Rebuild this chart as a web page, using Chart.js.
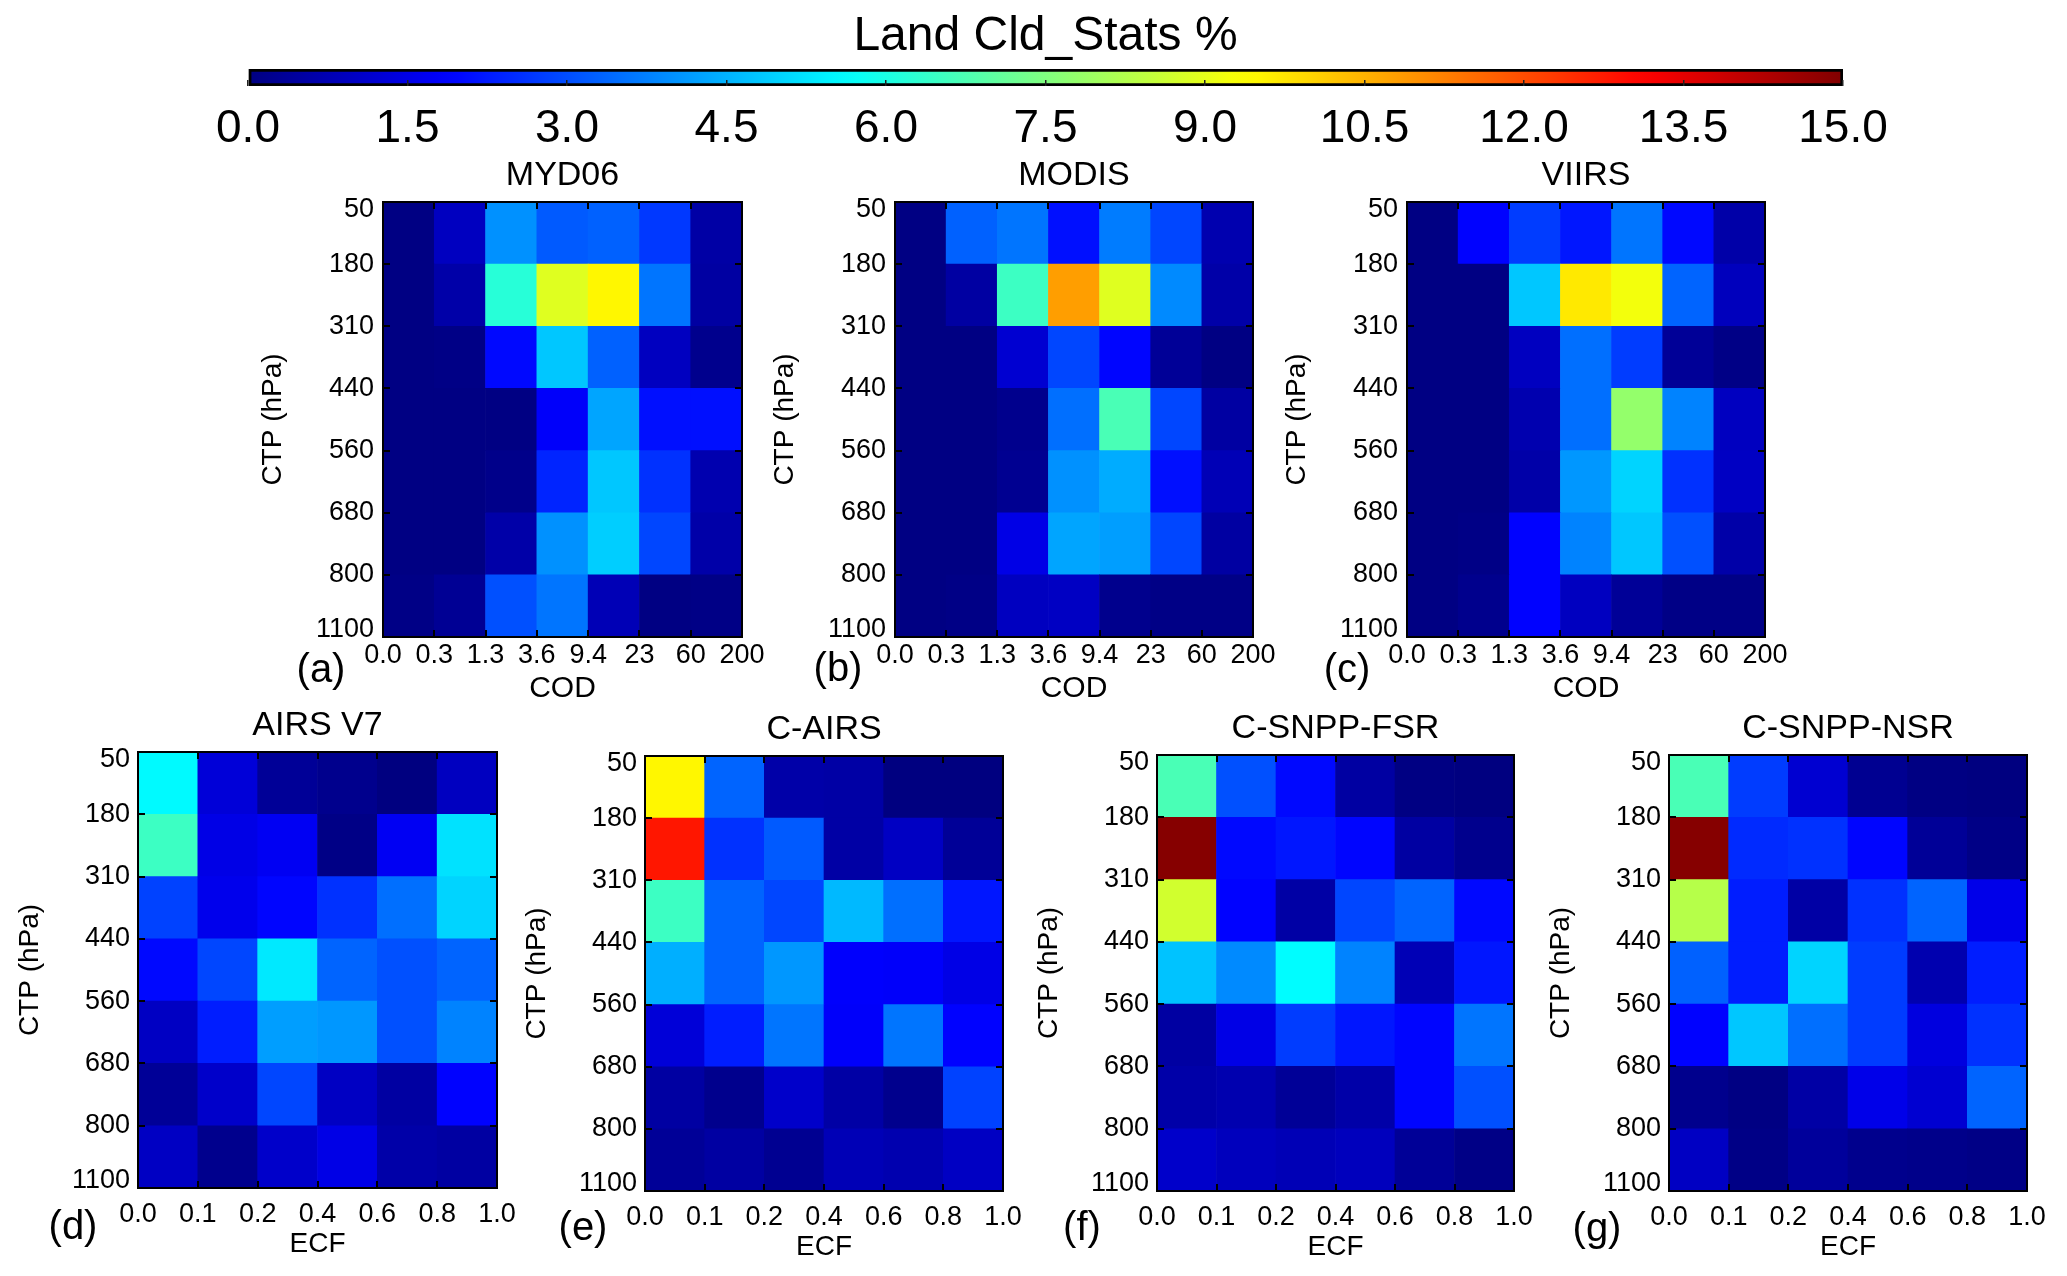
<!DOCTYPE html>
<html><head><meta charset="utf-8">
<script src="https://cdn.jsdelivr.net/npm/chart.js@4.4.1/dist/chart.umd.min.js"></script>
<style>
html,body{margin:0;padding:0;background:#fff;}
#page{position:relative;width:2067px;height:1276px;overflow:hidden;background:#fff;}
#page canvas{position:absolute;}
.plab{position:absolute;font-family:'Liberation Sans',Arial,Helvetica,sans-serif;font-size:40px;color:#000;transform:translate(-50%,-50%);line-height:1;white-space:nowrap;}
</style></head><body><div id="page"></div>
<script>
// ---------- data ----------
const colorbarTitle = 'Land Cld_Stats %';
const colorMin = 0, colorMax = 15, colorStep = 1.5;
const codEdges = ['0.0','0.3','1.3','3.6','9.4','23','60','200'];
const ecfEdges = ['0.0','0.1','0.2','0.4','0.6','0.8','1.0'];
const ctpEdges = ['50','180','310','440','560','680','800','1100']; // top -> bottom
const panelTitles = ['MYD06','MODIS','VIIRS','AIRS V7','C-AIRS','C-SNPP-FSR','C-SNPP-NSR'];
const panelLetters = ['(a)','(b)','(c)','(d)','(e)','(f)','(g)'];
// values in %, rows top (50-180 hPa) to bottom (800-1100 hPa)
const myd06 = [
 [0.05,0.95,4.0,3.2,3.3,2.7,0.55],
 [0.05,0.6,6.2,8.9,9.5,3.6,0.5],
 [0.05,0.1,2.0,4.8,3.3,0.95,0.2],
 [0.05,0.05,0.05,1.8,4.3,2.1,2.1],
 [0.05,0.05,0.15,2.4,4.8,2.6,0.7],
 [0.05,0.05,0.6,4.0,4.9,2.9,0.6],
 [0.1,0.3,3.05,3.6,0.8,0.05,0.1]
];
const modis = [
 [0.05,3.3,3.6,2.1,3.7,2.9,0.7],
 [0.05,0.5,6.5,10.8,8.9,3.9,0.6],
 [0.05,0.05,1.2,2.9,1.95,0.35,0.05],
 [0.05,0.05,0.2,3.5,6.7,2.9,0.5],
 [0.05,0.05,0.25,4.0,4.4,2.1,0.8],
 [0.05,0.05,1.5,4.3,4.2,2.9,0.5],
 [0.05,0.1,0.95,1.0,0.2,0.1,0.1]
];
const viirs = [
 [0.05,1.9,2.75,2.2,3.6,2.0,0.6],
 [0.05,0.05,4.8,9.7,9.2,3.35,0.9],
 [0.05,0.05,0.95,3.5,2.75,0.35,0.1],
 [0.05,0.05,0.7,3.5,7.8,3.8,0.95],
 [0.05,0.05,0.6,4.1,5.0,2.6,1.0],
 [0.05,0.1,1.9,3.8,4.8,3.05,0.6],
 [0.05,0.2,1.9,0.95,0.35,0.1,0.1]
];
const airsV7 = [
 [5.55,1.3,0.35,0.2,0.0,0.95],
 [6.5,1.5,1.7,0.1,1.7,5.2],
 [2.85,1.6,1.95,2.6,3.5,5.0],
 [2.0,2.9,5.3,3.35,3.05,3.35],
 [1.0,2.3,4.2,4.1,3.05,3.8],
 [0.35,1.1,2.9,1.0,0.5,1.9],
 [1.0,0.2,1.1,1.5,0.6,0.5]
];
const cAirs = [
 [9.5,3.35,0.6,0.55,0.0,0.0],
 [12.8,2.6,3.2,0.55,1.0,0.35],
 [6.5,3.35,2.9,4.6,3.5,2.2],
 [4.45,3.35,4.1,1.85,1.8,1.5],
 [1.3,2.3,3.6,1.8,3.6,1.9],
 [0.5,0.2,1.1,0.55,0.2,2.85],
 [0.35,0.5,0.25,0.8,0.7,1.0]
];
const cSnppFsr = [
 [6.7,3.05,2.0,0.5,0.05,0.0],
 [14.9,2.0,2.2,1.95,0.5,0.2],
 [8.7,1.9,0.55,2.9,3.35,2.0],
 [4.75,3.9,5.6,3.8,0.8,2.2],
 [0.5,1.5,2.75,2.2,1.95,3.6],
 [0.6,0.7,0.35,0.6,1.95,3.05],
 [1.1,0.9,0.8,0.9,0.35,0.1]
];
const cSnppNsr = [
 [6.7,2.75,1.2,0.25,0.05,0.0],
 [14.9,2.5,2.6,1.95,0.35,0.1],
 [8.3,2.3,0.55,2.6,3.35,1.55],
 [3.3,2.3,5.0,2.75,0.7,2.3],
 [1.9,4.8,3.5,2.75,1.4,2.6],
 [0.2,0.05,0.55,1.55,1.2,3.35],
 [1.0,0.1,0.4,0.2,0.15,0.1]
];

// ---------- layout (positions only) ----------
const layout = [
 {L:383, R:742, T:202, B:637, axW:124, xAxH:67, xPad:12, yPad:16, titlePad:9, xTitleSize:30, lab:[321,668]},
 {L:895, R:1253, T:202, B:637, axW:124, xAxH:67, xPad:12, yPad:16, titlePad:9, xTitleSize:30, lab:[838,667]},
 {L:1407, R:1765, T:202, B:637, axW:124, xAxH:67, xPad:12, yPad:16, titlePad:9, xTitleSize:30, lab:[1347,668]},
 {L:138, R:497, T:752, B:1188, axW:122, xAxH:70, xPad:20, yPad:15, titlePad:9, xTitleSize:28, lab:[73,1225]},
 {L:645, R:1003, T:756, B:1191, axW:122, xAxH:70, xPad:20, yPad:15, titlePad:9, xTitleSize:28, lab:[583,1226]},
 {L:1157, R:1514, T:755, B:1191, axW:122, xAxH:70, xPad:20, yPad:15, titlePad:9, xTitleSize:28, lab:[1082,1226]},
 {L:1669, R:2027, T:755, B:1191, axW:122, xAxH:70, xPad:20, yPad:15, titlePad:9, xTitleSize:28, lab:[1597,1227]}
];
const panelValues = [myd06, modis, viirs, airsV7, cAirs, cSnppFsr, cSnppNsr];
const panelXEdges = [codEdges, codEdges, codEdges, ecfEdges, ecfEdges, ecfEdges, ecfEdges];
const panelXTitles = ['COD','COD','COD','ECF','ECF','ECF','ECF'];

const FONT = "'Liberation Sans', Arial, Helvetica, sans-serif";
Chart.defaults.font.family = FONT;
Chart.defaults.color = '#000';
const page = document.getElementById('page');

function clamp01(x){ return Math.max(0, Math.min(1, x)); }
function jet(v){
  const t = clamp01((v - colorMin) / (colorMax - colorMin));
  const r = clamp01(1.5 - Math.abs(4*t - 3));
  const g = clamp01(1.5 - Math.abs(4*t - 2));
  const b = clamp01(1.5 - Math.abs(4*t - 1));
  return 'rgb(' + Math.round(r*255) + ',' + Math.round(g*255) + ',' + Math.round(b*255) + ')';
}

function makeCanvas(left, top, w, h){
  const cv = document.createElement('canvas');
  cv.width = w; cv.height = h;
  cv.style.left = left + 'px'; cv.style.top = top + 'px';
  cv.style.width = w + 'px'; cv.style.height = h + 'px';
  page.appendChild(cv);
  return cv;
}

// ---------- colorbar ----------
(function(){
  const cbLeft = 248, cbRight = 1843, pad = 100;
  const cv = makeCanvas(cbLeft - pad, 0, (cbRight - cbLeft) + 2*pad, 156);
  new Chart(cv, {
    type: 'bar',
    data: { labels: ['cb'], datasets: [{
      data: [[colorMin, colorMax]],
      backgroundColor: (ctx) => {
        const ch = ctx.chart; const xs = ch.scales.x;
        if (!ch.chartArea || !xs) return jet(colorMin);
        const g = ch.ctx.createLinearGradient(xs.getPixelForValue(colorMin), 0, xs.getPixelForValue(colorMax), 0);
        for (let i = 0; i <= 60; i++) { const v = colorMin + (colorMax - colorMin) * i / 60; g.addColorStop(i/60, jet(v)); }
        return g;
      },
      borderColor: '#000', borderWidth: 3, borderSkipped: false,
      barPercentage: 1, categoryPercentage: 1
    }]},
    options: {
      indexAxis: 'y', responsive: false, animation: false,
      layout: { padding: { left: pad, right: pad, top: 0, bottom: 0 } },
      plugins: { legend: { display: false }, tooltip: { enabled: false },
        title: { display: true, text: colorbarTitle, font: { size: 48, lineHeight: 1, weight: 'normal' }, padding: { top: 13, bottom: 8 }, color: '#000' } },
      scales: {
        x: { type: 'linear', min: colorMin, max: colorMax, offset: false,
             ticks: { stepSize: colorStep, autoSkip: false, maxRotation: 0, padding: 26, font: { size: 46, lineHeight: 1 }, callback: v => Number(v).toFixed(1) },
             grid: { display: true, drawOnChartArea: false, drawTicks: true, tickLength: -6, color: '#222', lineWidth: 1.5, z: 1 },
             border: { display: false },
             afterFit: s => { s.height = 70; } },
        y: { display: false }
      }
    }
  });
})();

// ---------- heatmap panels ----------
function heatmap(idx){
  const sp = layout[idx];
  const rows = panelValues[idx];
  const xEdges = panelXEdges[idx];
  const nRows = rows.length, nCols = rows[0].length;
  const titleH = 34 + sp.titlePad;
  const W = sp.axW*2 + (sp.R - sp.L);
  const H = titleH + (sp.B - sp.T) + sp.xAxH;
  const cv = makeCanvas(sp.L - sp.axW, sp.T - titleH, W, H);
  const datasets = [];
  for (let r = nRows - 1; r >= 0; r--) {
    datasets.push({
      data: rows[r].map((v, c) => ({ x: c + 0.5, y: 1 })),
      backgroundColor: rows[r].map(jet),
      borderWidth: 0, xAxisID: 'x', yAxisID: 'y',
      barPercentage: 1, categoryPercentage: 1
    });
  }
  // inward tick marks drawn over the cells, as in the original frame
  const gridOpts = { display: true, drawOnChartArea: false, drawTicks: true, tickLength: -7, color: '#000', lineWidth: 2, offset: false, z: 1 };
  const borderOpts = { display: true, color: '#000', width: 2, z: 1 };
  const yLabel = (v) => {
    const i = nRows - Math.round(v);
    const s = ctpEdges[i];
    if (i === 0) return ['', s];          // top label sits just inside the frame
    if (i === nRows) return [s, ''];      // bottom label sits just inside the frame
    return s;
  };
  new Chart(cv, {
    type: 'bar',
    data: { datasets },
    options: {
      responsive: false, animation: false,
      layout: { padding: 0 },
      plugins: { legend: { display: false }, tooltip: { enabled: false },
        title: { display: true, text: panelTitles[idx], font: { size: 34, lineHeight: 1, weight: 'normal' }, padding: { top: 0, bottom: sp.titlePad }, color: '#000' } },
      scales: {
        x: { type: 'linear', position: 'bottom', stacked: true, min: 0, max: nCols, offset: false,
             ticks: { stepSize: 1, autoSkip: false, maxRotation: 0, padding: sp.xPad, font: { size: 27, lineHeight: 1 }, callback: v => xEdges[Math.round(v)] },
             grid: gridOpts, border: borderOpts,
             title: { display: true, text: panelXTitles[idx], font: { size: sp.xTitleSize, lineHeight: 1 }, padding: 0, color: '#000' },
             afterFit: s => { s.height = sp.xAxH; } },
        x2: { type: 'linear', position: 'top', min: 0, max: nCols, offset: false,
             ticks: { display: false, stepSize: 1 },
             grid: gridOpts, border: borderOpts,
             afterFit: s => { s.height = 0; } },
        y: { type: 'linear', position: 'left', stacked: true, min: 0, max: nRows,
             ticks: { stepSize: 1, autoSkip: false, padding: sp.yPad, font: { size: 27, lineHeight: 0.55 }, callback: yLabel },
             grid: gridOpts, border: borderOpts,
             title: { display: true, text: 'CTP (hPa)', font: { size: 28, lineHeight: 1 }, padding: 0, color: '#000' },
             afterFit: s => { s.width = sp.axW; } },
        y2: { type: 'linear', position: 'right', min: 0, max: nRows,
             ticks: { display: false, stepSize: 1 },
             grid: gridOpts, border: borderOpts,
             afterFit: s => { s.width = sp.axW; } }
      }
    }
  });
  const lab = document.createElement('div');
  lab.className = 'plab';
  lab.textContent = panelLetters[idx];
  lab.style.left = sp.lab[0] + 'px';
  lab.style.top = sp.lab[1] + 'px';
  page.appendChild(lab);
}
for (let i = 0; i < layout.length; i++) heatmap(i);
</script>
</body></html>
